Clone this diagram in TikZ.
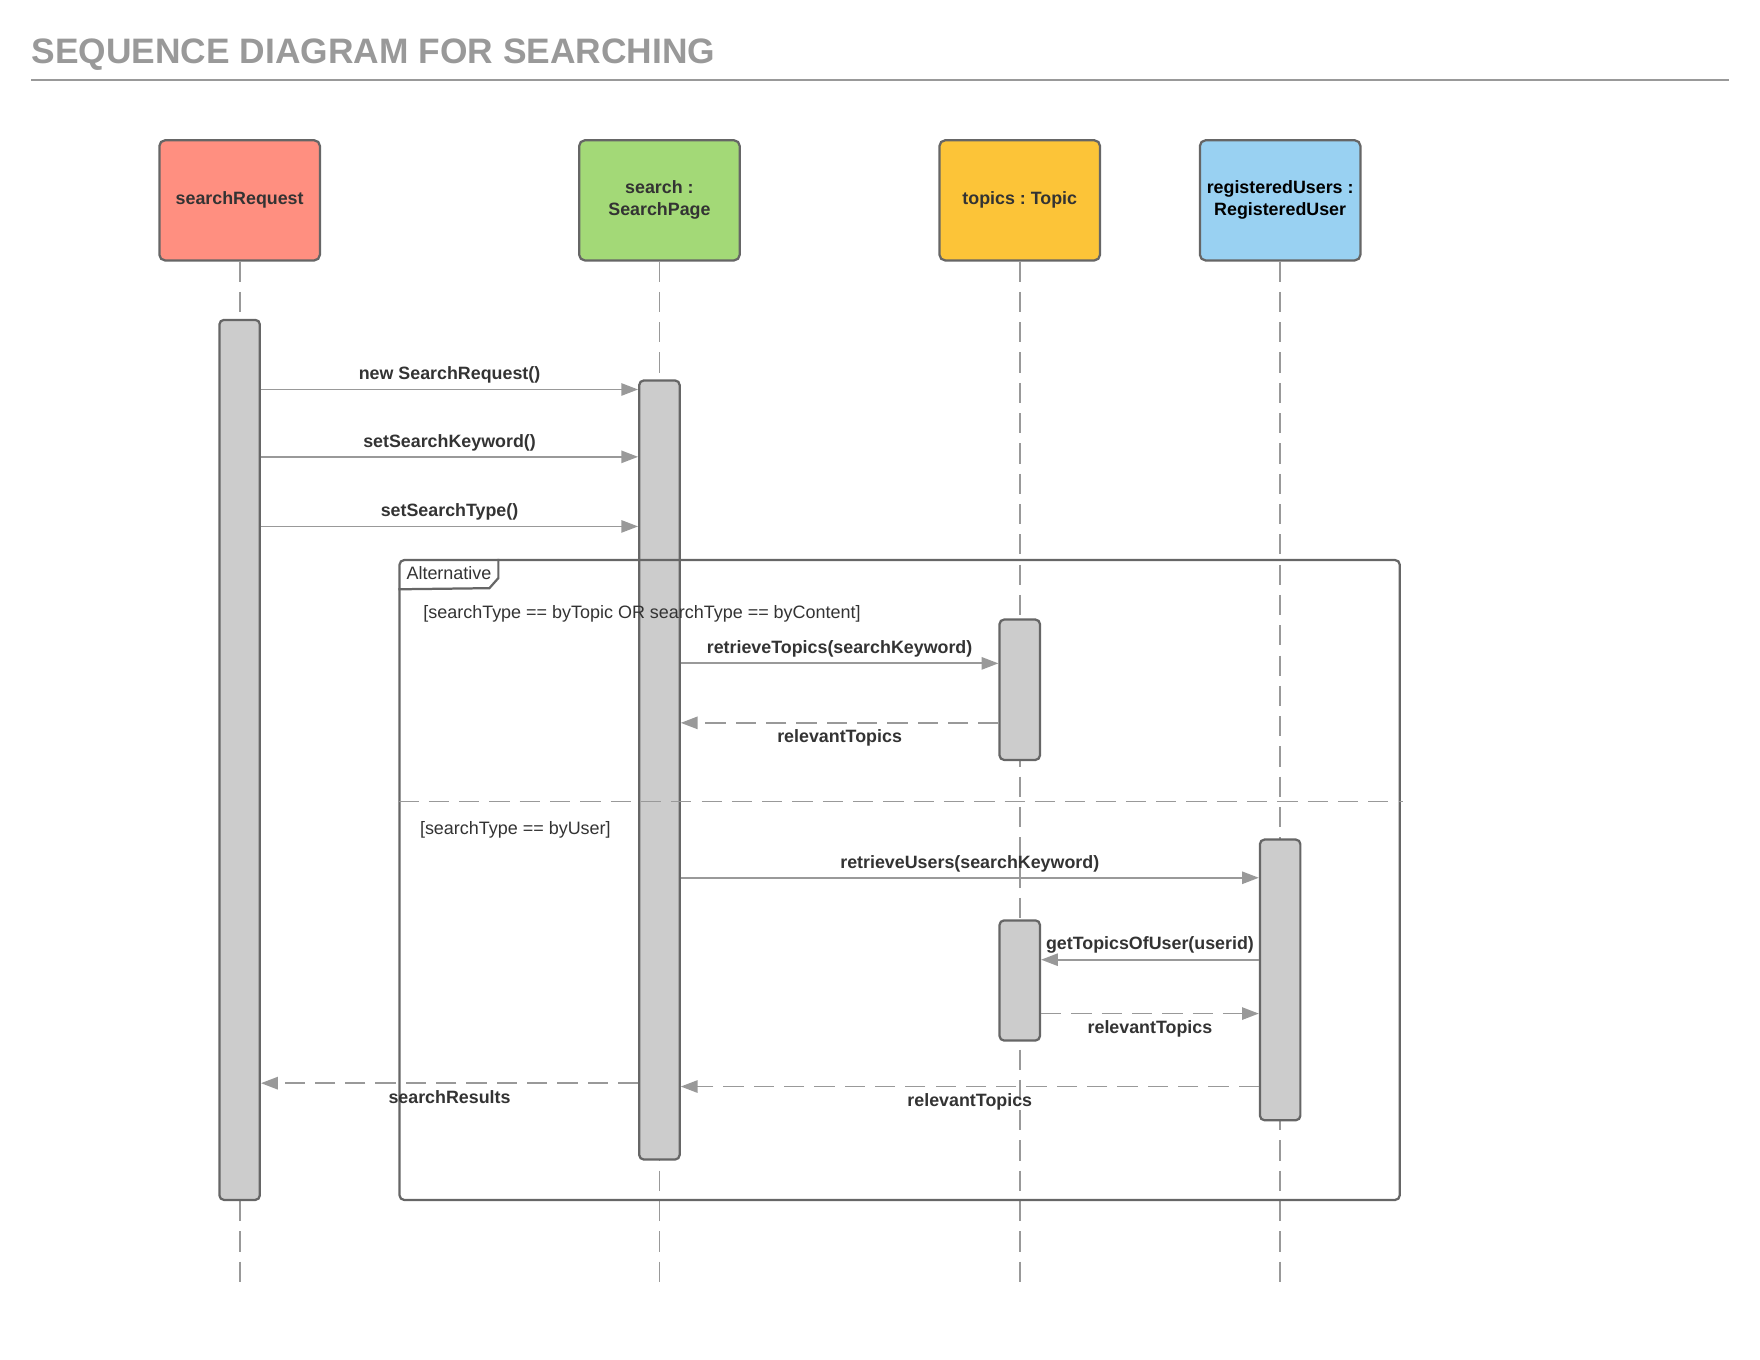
\documentclass[tikz,border=0pt]{standalone}
\usepackage{fontspec}
\setmainfont{Liberation Sans}
\usetikzlibrary{arrows.meta}
\frenchspacing

\definecolor{salmon}{HTML}{FF8F80}
\definecolor{leaf}{HTML}{A3D977}
\definecolor{amber}{HTML}{FCC438}
\definecolor{sky}{HTML}{99D1F2}
\definecolor{edge}{HTML}{666666}
\definecolor{wire}{HTML}{999999}
\definecolor{ink}{HTML}{333333}
\definecolor{barfill}{HTML}{CCCCCC}

\tikzset{head_style/.style={draw=edge, line width=2pt, rounded corners=5pt, minimum width=143pt, minimum height=107pt, inner sep=0pt, align=center, text=ink, font=\fontsize{15.9}{19.5}\selectfont\bfseries}}
\tikzset{bar_style/.style={draw=edge, fill=barfill, line width=2pt, rounded corners=4pt, minimum width=36pt, inner sep=0pt}}
\tikzset{life_style/.style={draw=wire, line width=1.6pt, dash pattern=on 18pt off 9pt}}
\tikzset{msg_style/.style={draw=wire, line width=1.6pt, -{Triangle[length=15pt, width=11pt]}}}
\tikzset{ret_style/.style={msg_style, dash pattern=on 18pt off 9pt}}
\tikzset{lbl_style/.style={text=ink, inner sep=3pt, font=\fontsize{15.9}{19}\selectfont\bfseries}}
\tikzset{guard_style/.style={text=ink, inner sep=0pt, anchor=west, font=\fontsize{16}{19}\selectfont}}

\begin{document}
\begin{tikzpicture}[x=1pt,y=-1pt]
    \useasboundingbox (0,0) rectangle (1568,1211.6);

    \node[anchor=base west, inner sep=0pt, text=wire, font=\fontsize{31.5}{36}\selectfont\bfseries] (title) at (28,57) {SEQUENCE DIAGRAM FOR SEARCHING};
    \draw[wire, line width=2pt] (title.west |- 0,71) -- (1540,71);

    \node[head_style, fill=salmon] (req) at (213.5,178.5) {searchRequest};
    \node[head_style, fill=leaf] (page) at (587.5,178.5) {search :\\SearchPage};
    \node[head_style, fill=amber] (topic) at (908.5,178.5) {topics : Topic};
    \node[head_style, fill=sky, text=black] (user) at (1140.5,178.5) {registeredUsers :\\RegisteredUser};

    \coordinate (reqend) at (213.5,1150);
    \coordinate (pageend) at (587.5,1142);
    \coordinate (topicend) at (908.5,1142);
    \coordinate (userend) at (1140.5,1142);
    \draw[life_style] (req.south) -- (reqend);
    \draw[life_style] (page.south) -- (pageend);
    \draw[life_style] (topic.south) -- (topicend);
    \draw[life_style] (user.south) -- (userend);

    \node[bar_style, minimum height=784pt] (reqbar) at (213.5,677) {};
    \node[bar_style, minimum height=694pt] (pagebar) at (587.5,686) {};
    \node[bar_style, minimum height=125pt] (topicbar1) at (908.5,614.5) {};
    \node[bar_style, minimum height=107pt] (topicbar2) at (908.5,873.5) {};
    \node[bar_style, minimum height=250pt] (userbar) at (1140.5,873) {};

    % alternative frame
    \node[draw=edge, line width=2pt, rounded corners=4pt, minimum width=891pt, minimum height=570pt, inner sep=0pt] (alt) at (801.5,784) {};
    \draw[edge, line width=2pt] (alt.north west) ++(89,0) -- ++(0,17) -- ++(-8,9) -- (alt.west |- 0,525);
    \node[guard_style] (altname) at (362,511) {Alternative};
    \node[guard_style] (guard1) at (377,546.5) {[searchType == byTopic OR searchType == byContent]};
    \draw[life_style] (alt.west |- 0,714) -- (1250,714);
    \node[guard_style] (guard2) at (374,739.5) {[searchType == byUser]};

    \draw[msg_style] (reqbar.east |- 0,347) -- node[lbl_style, above=1.5pt] {new SearchRequest()} (pagebar.west |- 0,347);
    \draw[msg_style] (reqbar.east |- 0,407) -- node[lbl_style, above=1.5pt] {setSearchKeyword()} (pagebar.west |- 0,407);
    \draw[msg_style] (reqbar.east |- 0,469) -- node[lbl_style, above=1.5pt] {setSearchType()} (pagebar.west |- 0,469);

    \draw[msg_style] (pagebar.east |- 0,591) -- node[lbl_style, above=1.5pt] {retrieveTopics(searchKeyword)} (topicbar1.west |- 0,591);
    \draw[ret_style] (topicbar1.west |- 0,644) -- node[lbl_style, below=2.5pt] {relevantTopics} (pagebar.east |- 0,644);

    \draw[msg_style] (pagebar.east |- 0,782) -- node[lbl_style, above=1.5pt] {retrieveUsers(searchKeyword)} (userbar.west |- 0,782);
    \draw[msg_style] (userbar.west |- 0,855) -- node[lbl_style, above=1.5pt] {getTopicsOfUser(userid)} (topicbar2.east |- 0,855);
    \draw[ret_style] (topicbar2.east |- 0,903) -- node[lbl_style, below=2.5pt] {relevantTopics} (userbar.west |- 0,903);
    \draw[ret_style] (userbar.west |- 0,968) -- node[lbl_style, below=2.5pt] {relevantTopics} (pagebar.east |- 0,968);
    \draw[ret_style] (pagebar.west |- 0,965) -- node[lbl_style, below=2.5pt] {searchResults} (reqbar.east |- 0,965);

\end{tikzpicture}
\end{document}
